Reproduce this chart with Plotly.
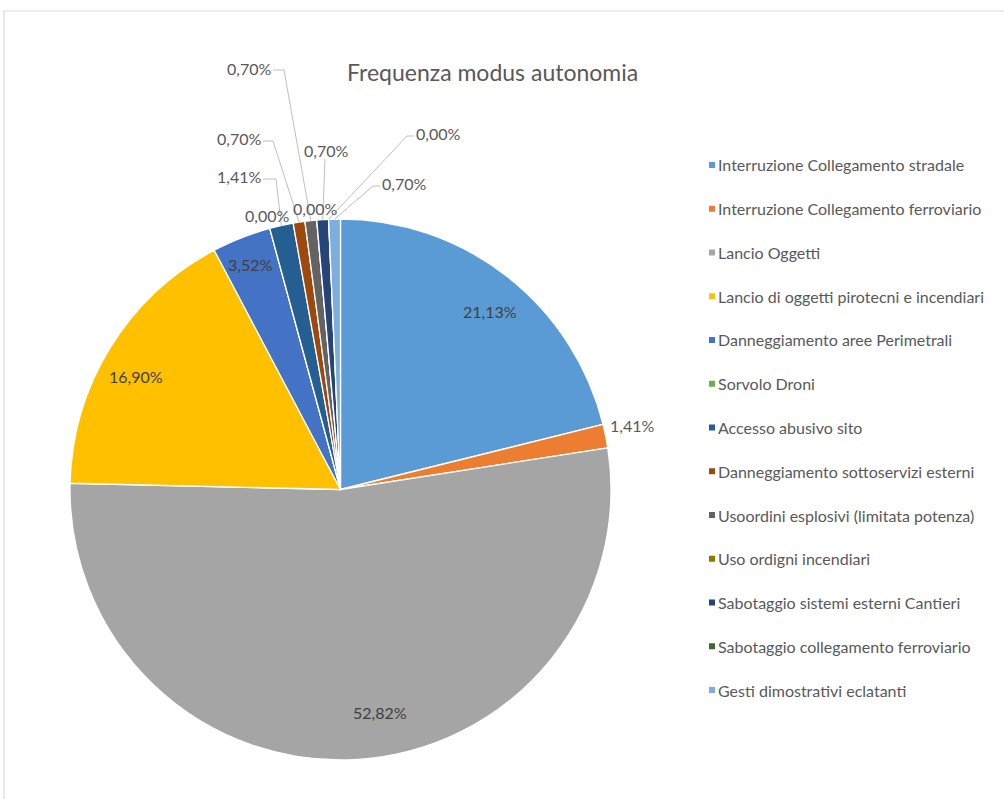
import math
import plotly.graph_objects as go

# ---- data -------------------------------------------------------------
categories = [
    "Interruzione Collegamento stradale",
    "Interruzione Collegamento ferroviario",
    "Lancio Oggetti",
    "Lancio di oggetti pirotecni e incendiari",
    "Danneggiamento aree Perimetrali",
    "Sorvolo Droni",
    "Accesso abusivo sito",
    "Danneggiamento sottoservizi esterni",
    "Usoordini esplosivi (limitata potenza)",
    "Uso ordigni incendiari",
    "Sabotaggio sistemi esterni Cantieri",
    "Sabotaggio collegamento ferroviario",
    "Gesti dimostrativi eclatanti",
]
percent = [21.13, 1.41, 52.82, 16.90, 3.52, 0.00, 1.41, 0.70, 0.70, 0.00, 0.70, 0.00, 0.70]
title_text = "Frequenza modus autonomia"

# ---- styling ----------------------------------------------------------
colors = ["#5B9BD5", "#ED7D31", "#A5A5A5", "#FFC000", "#4472C4", "#70AD47",
          "#255E91", "#9E480E", "#636363", "#997300", "#264478", "#43682B",
          "#7CAFDD"]
FONT = "Lato, 'Open Sans', sans-serif"
W, H = 1004, 799
CX, CY, R = 340.5, 489.5, 270.5          # pie centre and radius (px)

# label text centres (px) and elbow points of the leader lines
LABEL_POS = {0: (490, 311), 1: (632, 425), 2: (380, 712), 3: (136, 377),
             4: (250, 264), 5: (267, 215), 6: (239, 176), 7: (239, 138),
             8: (249, 68), 9: (315, 209), 10: (326, 151), 11: (438, 133),
             12: (404, 183)}
INSIDE = {0, 2, 3, 4}
ELBOW = {6: (276, 179), 7: (273, 141), 8: (284, 70), 10: (325, 159),
         11: (407, 136), 12: (373, 186)}
HALF_W = 24


def px(x):
    return x / W


def py(y):
    return 1 - y / H


def fmt(v):
    return f"{v:.2f}".replace(".", ",") + "%"


fig = go.Figure(go.Pie(
    labels=categories, values=percent, sort=False, direction="clockwise",
    rotation=0, textinfo="none", hoverinfo="label+percent", showlegend=False,
    marker=dict(colors=colors, line=dict(color="white", width=1.3)),
    domain=dict(x=[px(CX - R), px(CX + R)], y=[py(CY + R), py(CY - R)]),
))

annotations = []
shapes = []

# chart-area frame
shapes.append(dict(type="rect", xref="paper", yref="paper",
                   x0=px(4), x1=px(W + 20), y0=py(11), y1=py(H + 20),
                   line=dict(color="#D9D9D9", width=1.2), layer="below"))

# data labels with leader lines
total = sum(percent)
cum = 0.0
for i, v in enumerate(percent):
    theta = 2 * math.pi * (cum + v / 2) / total
    cum += v
    lx, ly = LABEL_POS[i]
    annotations.append(dict(
        x=px(lx), y=py(ly), xref="paper", yref="paper", showarrow=False,
        text=fmt(v), xanchor="center", yanchor="middle",
        font=dict(family=FONT, size=16,
                  color="#404040" if i in INSIDE else "#595959")))
    if i in ELBOW:
        ex = CX + R * math.sin(theta)
        ey = CY - R * math.cos(theta)
        bx, by = ELBOW[i]
        pts = [(ex, ey), (bx, by)]
        if abs(bx - lx) > 5:
            sx = lx + HALF_W if bx > lx else lx - HALF_W
            pts.append((sx, by))
        path = "M " + " L ".join(f"{px(a)},{py(b)}" for a, b in pts)
        shapes.append(dict(type="path", xref="paper", yref="paper", path=path,
                           line=dict(color="#BFBFBF", width=1)))

# title
annotations.append(dict(x=px(492), y=py(72), xref="paper", yref="paper",
                        showarrow=False, text=title_text, xanchor="center",
                        yanchor="middle",
                        font=dict(family=FONT, size=23, color="#595959")))

# legend
for i, name in enumerate(categories):
    yy = 165 + 43.75 * i
    shapes.append(dict(type="rect", xref="paper", yref="paper",
                       x0=px(709), x1=px(715), y0=py(yy + 3), y1=py(yy - 3),
                       fillcolor=colors[i], line=dict(width=0)))
    annotations.append(dict(x=px(716), y=py(yy), xref="paper", yref="paper",
                            showarrow=False, text=name, xanchor="left",
                            yanchor="middle",
                            font=dict(family=FONT, size=16, color="#595959")))

fig.update_layout(
    width=W, height=H, margin=dict(l=0, r=0, t=0, b=0),
    paper_bgcolor="white", plot_bgcolor="white",
    annotations=annotations, shapes=shapes,
)

fig.write_html("out.html")
